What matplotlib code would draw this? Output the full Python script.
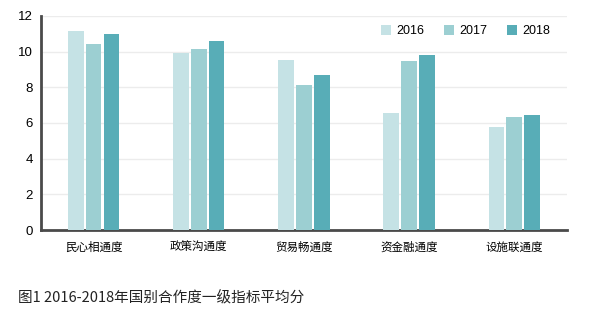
import numpy as np
import matplotlib.pyplot as plt

plt.rcParams['font.family'] = ['Liberation Sans', 'DejaVu Sans']

categories = ['民心相通度', '政策沟通度', '贸易畅通度', '资金融通度', '设施联通度']
years = ['2016', '2017', '2018']
v2016 = [11.15, 9.9, 9.55, 6.55, 5.75]
v2017 = [10.45, 10.15, 8.15, 9.45, 6.35]
v2018 = [11.0, 10.62, 8.7, 9.78, 6.45]
colors = ['#c5e2e5', '#9ccfd2', '#58adb7']

fig = plt.figure(figsize=(5.96, 3.24), dpi=100)
ax = fig.add_axes([0.069, 0.29, 0.882, 0.661])

x = np.arange(len(categories))
w = 0.17
for i, (vals, c) in enumerate(zip([v2016, v2017, v2018], colors)):
    ax.bar(x + (i - 1) * w, vals, width=w * 0.87, color=c, label=years[i], zorder=3)

ax.set_xlim(-0.5, len(categories) - 0.5)
ax.set_ylim(0, 12)
ax.set_yticks(range(0, 13, 2))
ax.set_yticklabels([str(t) for t in range(0, 13, 2)], family='Liberation Sans', fontsize=9.5)
ax.set_xticks(x)
ax.set_xticklabels(categories, fontsize=8.3, family=['Noto Sans CJK SC'])
ax.tick_params(axis='both', length=0)
ax.tick_params(axis='x', pad=8)
ax.tick_params(axis='y', pad=6)
ax.grid(axis='y', color='#ececec', lw=1, zorder=0)
for s in ['top', 'right']:
    ax.spines[s].set_visible(False)
ax.spines['left'].set_color('#4a4a4a')
ax.spines['left'].set_linewidth(2)
ax.spines['bottom'].set_color('#4a4a4a')
ax.spines['bottom'].set_linewidth(2)

ax.legend(loc='upper right', ncol=3, frameon=False, prop={'family': 'Liberation Sans', 'size': 9},
          handlelength=0.8, handleheight=0.8, columnspacing=1.6, handletextpad=0.4,
          bbox_to_anchor=(0.99, 1.01))

fig.text(0.03, 0.067, '图1 2016-2018年国别合作度一级指标平均分', fontsize=10.5,
         family=['Noto Sans CJK SC'], color='#222222')

fig.savefig('out.png', dpi=100)
